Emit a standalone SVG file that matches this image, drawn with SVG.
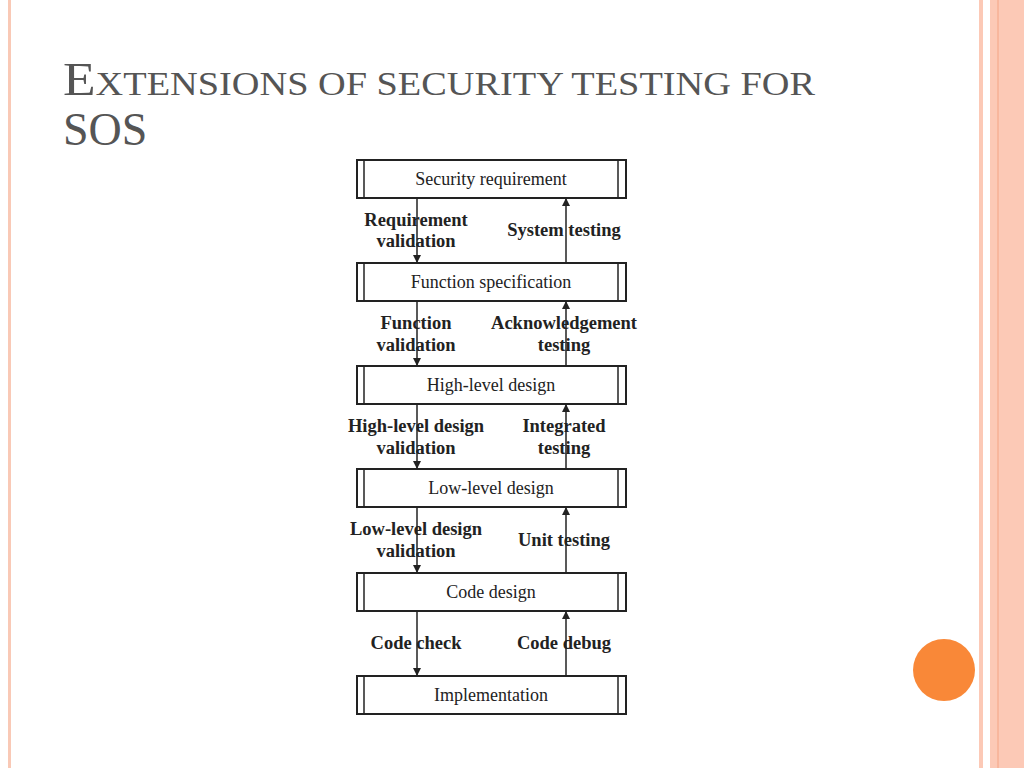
<svg xmlns="http://www.w3.org/2000/svg" width="1024" height="768" viewBox="0 0 1024 768">
<style>
.b{fill:#fff;stroke:#222;stroke-width:2}
.v{stroke:#222;stroke-width:1.5}
.t{font-family:"Liberation Serif",serif;font-size:18px;fill:#222;text-anchor:middle}
.l{font-family:"Liberation Serif",serif;font-size:18.5px;font-weight:bold;fill:#222;text-anchor:middle}
.h{font-family:"Liberation Serif",serif;fill:#555}
.c{stroke:#222;stroke-width:1.5;fill:none}
</style>
<defs><marker id="a" markerWidth="8" markerHeight="8" refX="7" refY="4" orient="auto" markerUnits="userSpaceOnUse"><path d="M0,0 L8,4 L0,8 Z" fill="#222"/></marker></defs>
<rect width="1024" height="768" fill="#fff"/>
<rect x="8" y="0" width="3" height="768" fill="#f9c9b6"/>
<rect x="979" y="0" width="4" height="768" fill="#fcc9b6"/>
<rect x="990" y="0" width="34" height="768" fill="#fcc9b6"/>
<line x1="998" y1="0" x2="998" y2="768" stroke="#f4a484" stroke-width="1"/>
<circle cx="944" cy="670" r="31" fill="#f98838"/>
<text class="h" x="63" y="95" textLength="752" lengthAdjust="spacingAndGlyphs"><tspan font-size="46">E</tspan><tspan font-size="33">XTENSIONS OF SECURITY TESTING FOR</tspan></text>
<text class="h" x="63" y="145" font-size="46">SOS</text>
<g id="n1"><rect class="b" x="357" y="160" width="269" height="38"/><line class="v" x1="364" y1="160" x2="364" y2="198"/><line class="v" x1="618" y1="160" x2="618" y2="198"/><text class="t" x="491" y="185">Security requirement</text></g>
<g id="n2"><rect class="b" x="357" y="263" width="269" height="38"/><line class="v" x1="364" y1="263" x2="364" y2="301"/><line class="v" x1="618" y1="263" x2="618" y2="301"/><text class="t" x="491" y="288">Function specification</text></g>
<g id="n3"><rect class="b" x="357" y="366" width="269" height="38"/><line class="v" x1="364" y1="366" x2="364" y2="404"/><line class="v" x1="618" y1="366" x2="618" y2="404"/><text class="t" x="491" y="391">High-level design</text></g>
<g id="n4"><rect class="b" x="357" y="469" width="269" height="38"/><line class="v" x1="364" y1="469" x2="364" y2="507"/><line class="v" x1="618" y1="469" x2="618" y2="507"/><text class="t" x="491" y="494">Low-level design</text></g>
<g id="n5"><rect class="b" x="357" y="573" width="269" height="38"/><line class="v" x1="364" y1="573" x2="364" y2="611"/><line class="v" x1="618" y1="573" x2="618" y2="611"/><text class="t" x="491" y="598">Code design</text></g>
<g id="n6"><rect class="b" x="357" y="676" width="269" height="38"/><line class="v" x1="364" y1="676" x2="364" y2="714"/><line class="v" x1="618" y1="676" x2="618" y2="714"/><text class="t" x="491" y="701">Implementation</text></g>
<g id="connectors">
<line class="c" x1="417" y1="198" x2="417" y2="262" marker-end="url(#a)"/>
<line class="c" x1="566" y1="263" x2="566" y2="199" marker-end="url(#a)"/>
<line class="c" x1="417" y1="301" x2="417" y2="365" marker-end="url(#a)"/>
<line class="c" x1="566" y1="366" x2="566" y2="302" marker-end="url(#a)"/>
<line class="c" x1="417" y1="404" x2="417" y2="468" marker-end="url(#a)"/>
<line class="c" x1="566" y1="469" x2="566" y2="405" marker-end="url(#a)"/>
<line class="c" x1="417" y1="507" x2="417" y2="572" marker-end="url(#a)"/>
<line class="c" x1="566" y1="573" x2="566" y2="508" marker-end="url(#a)"/>
<line class="c" x1="417" y1="611" x2="417" y2="675" marker-end="url(#a)"/>
<line class="c" x1="566" y1="676" x2="566" y2="612" marker-end="url(#a)"/>
<text class="l" x="416" y="226">Requirement</text><text class="l" x="416" y="247">validation</text>
<text class="l" x="564" y="236">System testing</text>
<text class="l" x="416" y="329">Function</text><text class="l" x="416" y="351">validation</text>
<text class="l" x="564" y="329">Acknowledgement</text><text class="l" x="564" y="351">testing</text>
<text class="l" x="416" y="432">High-level design</text><text class="l" x="416" y="454">validation</text>
<text class="l" x="564" y="432">Integrated</text><text class="l" x="564" y="454">testing</text>
<text class="l" x="416" y="535">Low-level design</text><text class="l" x="416" y="557">validation</text>
<text class="l" x="564" y="546">Unit testing</text>
<text class="l" x="416" y="649">Code check</text>
<text class="l" x="564" y="649">Code debug</text>
</g>
</svg>
